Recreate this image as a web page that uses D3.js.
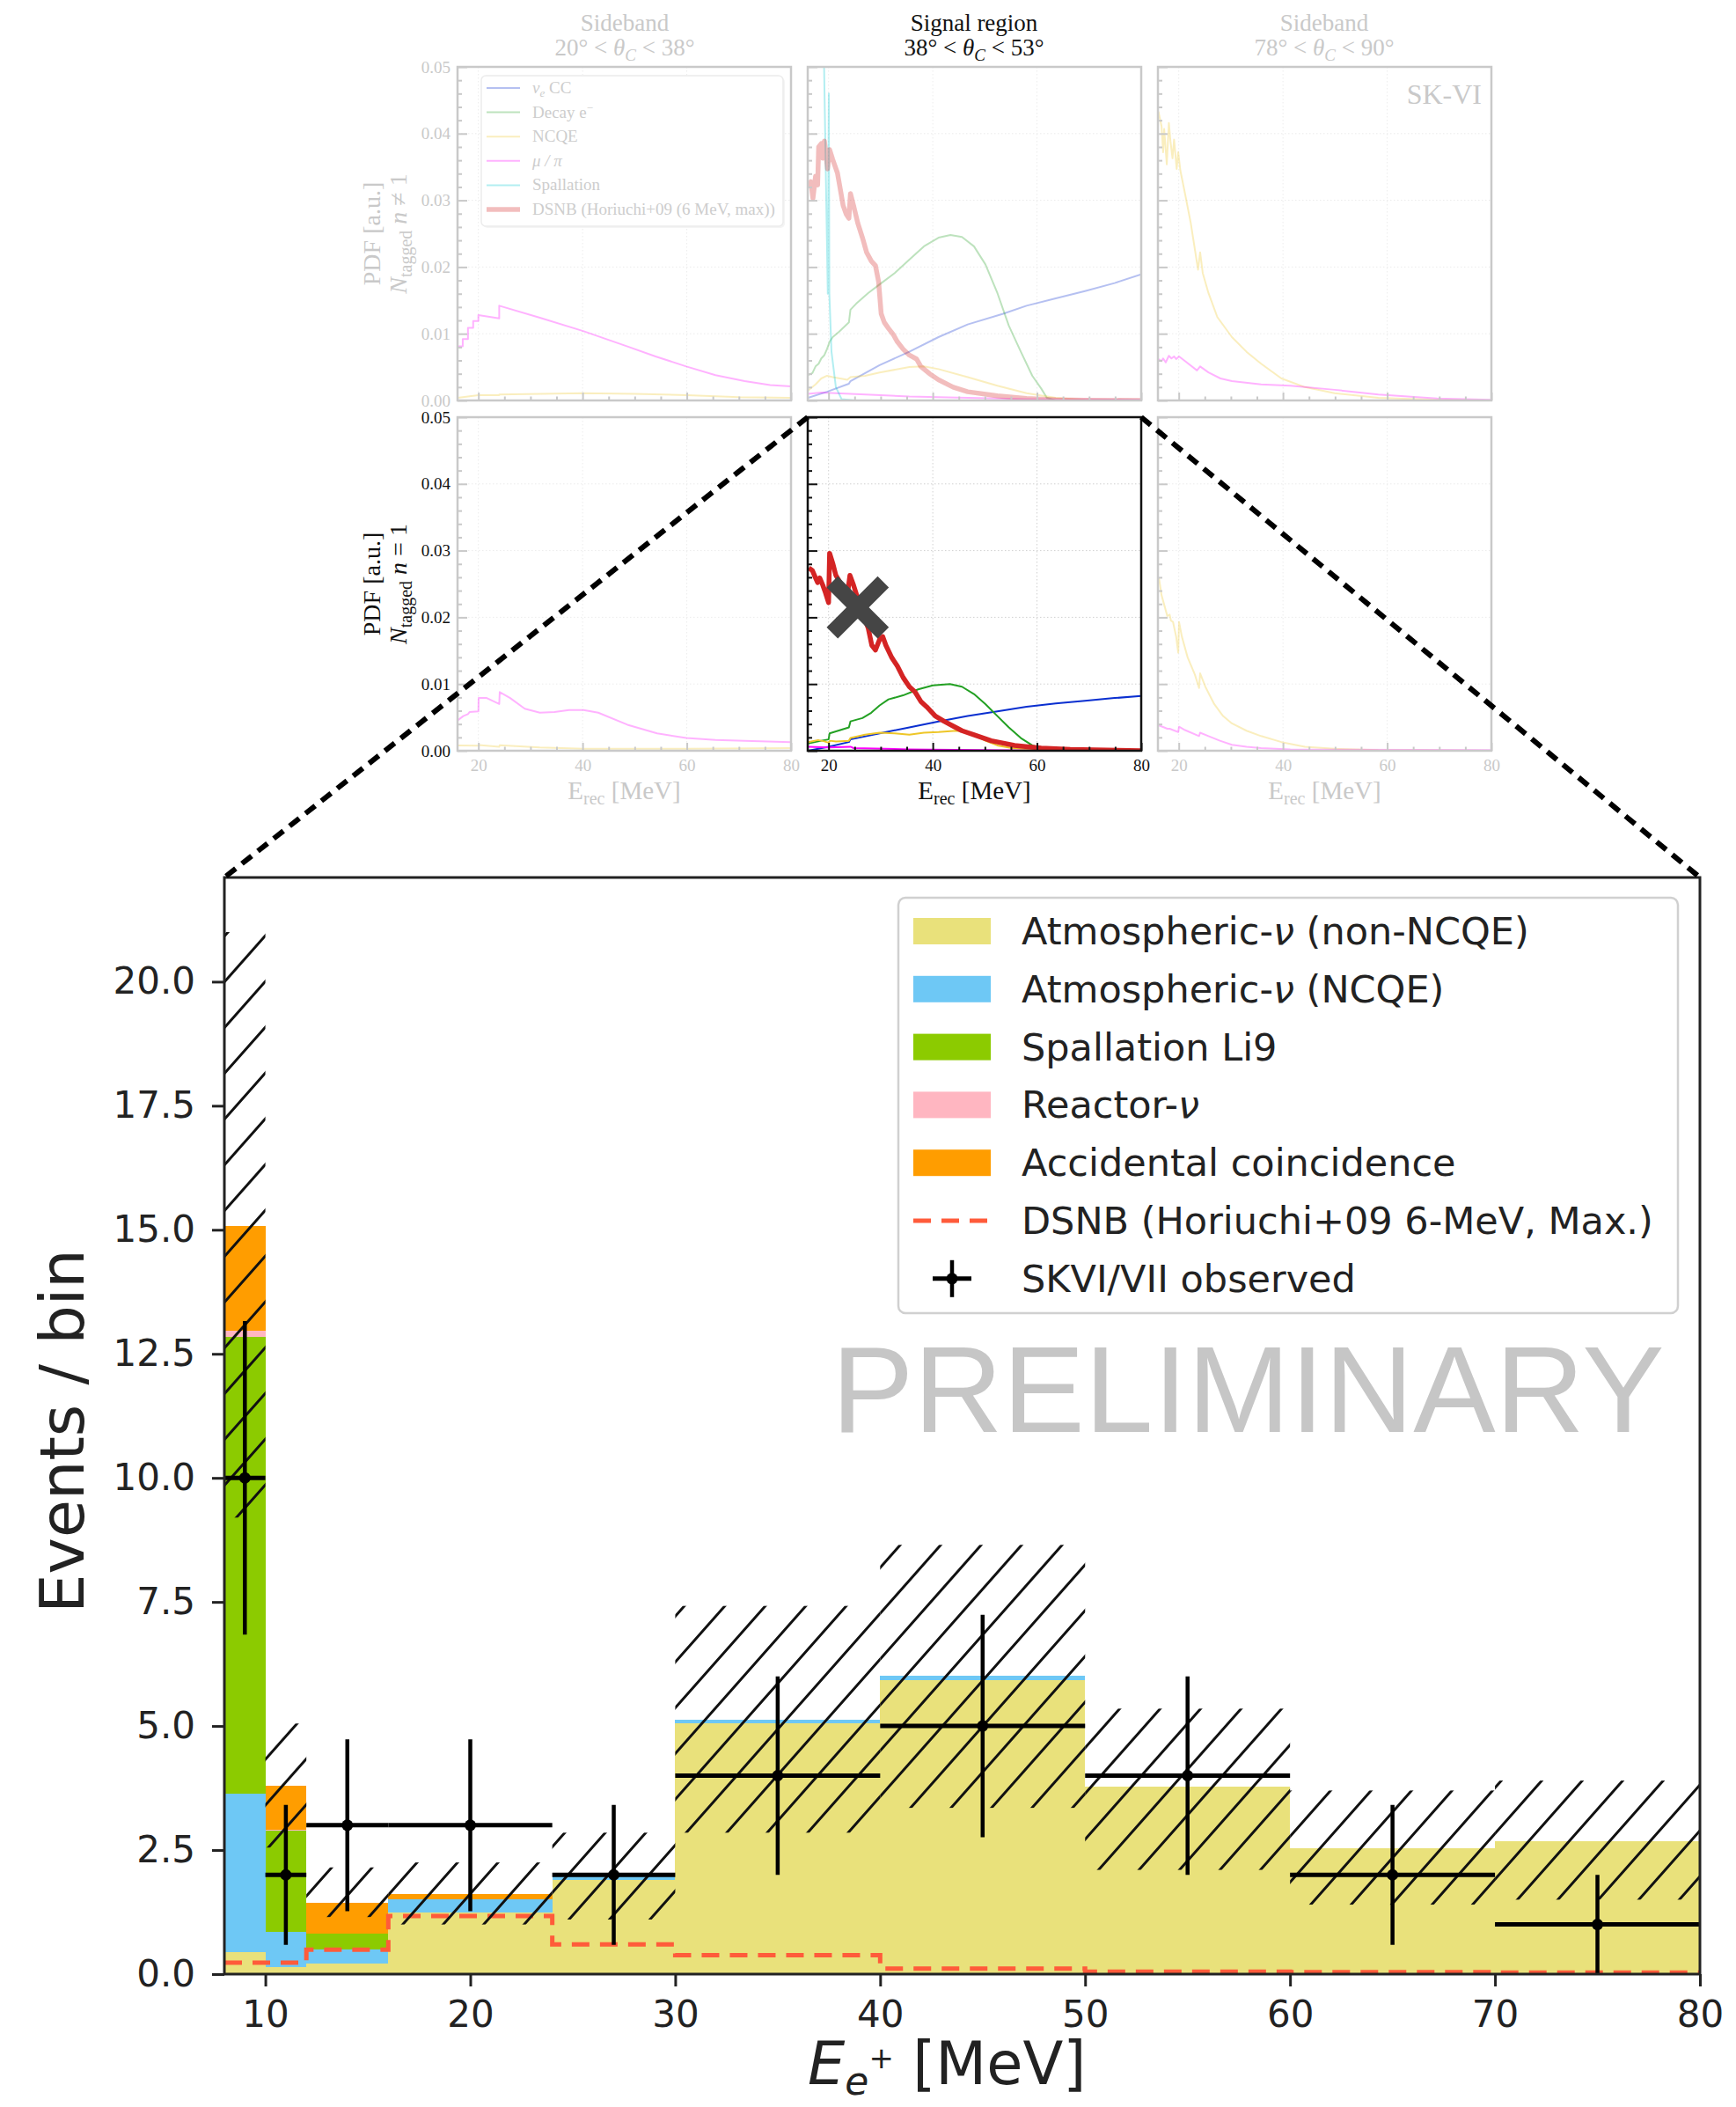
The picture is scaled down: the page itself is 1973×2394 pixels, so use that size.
<!DOCTYPE html>
<html><head><meta charset="utf-8">
<script src="https://cdn.jsdelivr.net/npm/d3@7/dist/d3.min.js"></script>
<style>html,body{margin:0;padding:0;background:#fff}svg{display:block}</style>
</head><body>
<svg id="chart" width="1973" height="2394" xmlns="http://www.w3.org/2000/svg"></svg>
<script>
// ================= MAIN CHART DATA =================
const binEdges     = [8, 10, 12, 16, 24, 30, 40, 50, 60, 70, 80];
const atmNonNCQE   = [0.45, 0.15, 0.22, 1.24, 1.89, 5.05, 5.92, 3.78, 2.54, 2.68];
const atmNCQE      = [3.18, 0.71, 0.28, 0.26, 0.09, 0.07, 0.10, 0.00, 0.00, 0.00];
const spallLi9     = [9.22, 2.03, 0.31, 0.01, 0.00, 0.00, 0.00, 0.00, 0.00, 0.00];
const reactorNu    = [0.11, 0.02, 0.01, 0.00, 0.00, 0.00, 0.00, 0.00, 0.00, 0.00];
const accidental   = [2.11, 0.88, 0.62, 0.11, 0.00, 0.00, 0.00, 0.00, 0.00, 0.00];
const dsnbExpected = [0.23, 0.23, 0.49, 1.17, 0.60, 0.38, 0.11, 0.05, 0.04, 0.03];
const bandLow      = [9.2, 2.55, 1.15, 1.00, 1.10, 2.85, 3.35, 2.10, 1.40, 1.50];
const bandHigh     = [21.0, 5.05, 2.15, 2.25, 2.85, 7.42, 8.65, 5.35, 3.70, 3.90];
const obsEnergy    = [9, 11, 14, 20, 27, 35, 45, 55, 65, 75];
const obsCounts    = [10, 2, 3, 3, 2, 4, 5, 4, 2, 1];
const obsErr       = [3.16, 1.41, 1.73, 1.73, 1.41, 2.00, 2.24, 2.00, 1.41, 1.00];
const mainYTicks   = [0, 2.5, 5, 7.5, 10, 12.5, 15, 17.5, 20];
const mainXTicks   = [10, 20, 30, 40, 50, 60, 70, 80];
const legendLabels = ["Atmospheric-ν (non-NCQE)", "Atmospheric-ν (NCQE)", "Spallation Li9", "Reactor-ν",
                      "Accidental coincidence", "DSNB (Horiuchi+09 6-MeV, Max.)", "SKVI/VII observed"];

// ================= PDF PANEL DATA ([E_rec MeV, PDF]) =================
const pdfYTicks = [0, 0.01, 0.02, 0.03, 0.04, 0.05];
const pdfXTicks = [20, 40, 60, 80];
const pdfLegendLabels = ["νe CC", "Decay e−", "NCQE", "μ / π", "Spallation", "DSNB (Horiuchi+09 (6 MeV, max))"];

const tlMuPi = [[16.0,0.0081],[17.0,0.0081],[17.0,0.0092],[18.0,0.0092],[18.0,0.0109],[19.0,0.0109],[19.0,0.0119],[20.0,0.0119],[20.0,0.0128],[24.0,0.0123],[24.0,0.0142],[31.8,0.0124],[40.1,0.0104],[48.6,0.0081],[54.0,0.0066],[59.9,0.0051],[65.5,0.0038],[71.1,0.0029],[76.0,0.0023],[80.0,0.0021]];
const tlNcqe = [[16,0.0004],[18,0.0006],[20,0.0008],[24,0.0008],[24,0.0009],[32,0.0010],[40,0.0011],[50,0.0010],[60,0.0008],[70,0.0005],[80,0.0004]];

const tmCC    = [[16.06,0.0004],[19.7,0.0013],[23.9,0.0025],[24.2,0.0029],[29.8,0.0053],[35.5,0.0073],[41.1,0.0095],[46.7,0.0114],[53.5,0.0130],[58.0,0.0142],[63.6,0.0153],[69.2,0.0164],[74.9,0.0176],[80.0,0.0189]];
const tmDecay = [[16.06,0.0038],[16.9,0.0041],[17.5,0.0051],[18.1,0.0055],[18.6,0.0063],[19.2,0.0068],[19.7,0.0077],[20.2,0.0088],[20.8,0.0095],[22.0,0.0103],[23.9,0.0117],[24.2,0.0136],[25.3,0.0145],[27.6,0.0161],[29.8,0.0174],[32.7,0.0191],[35.5,0.0211],[38.3,0.0231],[41.1,0.0244],[43.4,0.0248],[45.6,0.0245],[47.9,0.0231],[50.1,0.0204],[52.4,0.0161],[54.6,0.0112],[56.9,0.0073],[59.1,0.0037],[60.8,0.0018],[61.9,0.0004],[63.6,0.0000],[80.0,0.0000]];
const tmNcqe  = [[16.06,0.0015],[17.5,0.0024],[18.6,0.0033],[19.7,0.0037],[20.8,0.0035],[23.6,0.0031],[24.2,0.0035],[27.0,0.0037],[29.8,0.0042],[35.5,0.0050],[38.3,0.0051],[41.1,0.0047],[46.7,0.0035],[52.4,0.0022],[58.0,0.0011],[63.6,0.0004],[69.2,0.0001],[80.0,0.0000]];
const tmMuPi  = [[16.06,0.0010],[18.6,0.0012],[24.2,0.0010],[35.5,0.0006],[58.0,0.0002],[80.0,0.0001]];
const tmSpall = [[16.06,0.090],[19.1,0.052],[19.85,0.016],[20.05,0.046],[20.15,0.016],[20.56,0.0073],[21.4,0.0020],[22.5,0.0002],[25.0,0.0000],[80.0,0.0000]];
const tmDsnb  = [[16.06,0.0319],[16.6,0.0328],[17.0,0.0303],[17.5,0.0336],[17.9,0.0323],[18.1,0.0380],[18.6,0.0385],[18.9,0.0363],[19.2,0.0389],[19.4,0.0376],[19.8,0.0347],[20.2,0.0376],[20.8,0.0361],[21.7,0.0341],[22.2,0.0319],[22.8,0.0292],[23.4,0.0279],[23.9,0.0273],[24.2,0.0310],[24.8,0.0292],[25.6,0.0266],[26.5,0.0244],[27.3,0.0222],[28.2,0.0209],[29.0,0.0202],[29.6,0.0178],[30.1,0.0130],[30.7,0.0117],[31.5,0.0108],[32.4,0.0099],[33.2,0.0088],[34.3,0.0077],[35.5,0.0068],[36.9,0.0062],[37.7,0.0051],[39.4,0.0040],[41.1,0.0031],[43.9,0.0020],[46.7,0.0013],[52.4,0.0007],[58.0,0.0003],[63.6,0.0001],[69.2,0.00004],[80.0,0.0000]];

const trNcqe = [[16.1,0.0433],[16.7,0.0411],[17.0,0.0372],[17.2,0.0407],[17.7,0.0354],[18.1,0.0416],[18.4,0.0389],[18.8,0.0363],[19.1,0.0391],[19.6,0.0347],[19.9,0.0372],[20.3,0.0345],[21.2,0.0310],[22.3,0.0266],[23.1,0.0226],[23.7,0.0196],[24.1,0.0222],[24.6,0.0191],[25.7,0.0161],[27.4,0.0125],[30.2,0.0095],[33.0,0.0073],[35.8,0.0055],[39.7,0.0033],[44.2,0.0020],[49.9,0.0011],[58.3,0.0004],[69.6,0.0001],[80.0,0.0000]];
const trMuPi = [[16.1,0.0062],[16.7,0.0059],[17.0,0.0063],[17.5,0.0057],[18.1,0.0067],[18.6,0.0063],[19.1,0.0066],[19.5,0.0062],[20.05,0.0066],[21.2,0.0059],[23.5,0.0045],[24.1,0.0051],[25.7,0.0042],[28.0,0.0033],[30.2,0.0029],[35.8,0.0024],[41.4,0.0022],[49.9,0.0016],[58.3,0.0009],[69.6,0.0003],[80.0,0.0001]];

const blMuPi = [[16.1,0.0046],[17.1,0.0052],[18.0,0.0055],[18.3,0.0058],[20.0,0.0059],[20.05,0.0079],[21.6,0.0079],[24.0,0.0070],[24.1,0.0088],[26.1,0.0079],[28.9,0.0063],[31.8,0.0057],[34.6,0.0058],[37.4,0.0061],[40.2,0.0061],[43.0,0.0057],[48.6,0.0039],[54.3,0.0026],[59.9,0.0019],[65.5,0.0016],[71.1,0.0015],[80.0,0.0013]];
const blNcqe = [[16.1,0.0008],[20.0,0.00075],[20.05,0.00085],[24.0,0.0006],[24.1,0.00084],[31.8,0.0005],[40.2,0.0003],[60.0,0.0003],[80.0,0.0004]];

const bmCC    = [[16.06,0.0000],[20.0,0.0006],[23.9,0.0013],[24.2,0.0017],[29.8,0.0026],[35.5,0.0035],[41.1,0.0044],[46.7,0.0052],[52.4,0.0059],[58.0,0.0066],[63.6,0.0071],[69.2,0.0075],[74.9,0.0079],[80.0,0.0082]];
const bmDecay = [[16.06,0.0011],[18.6,0.0015],[20.0,0.0017],[20.2,0.0026],[23.9,0.0035],[24.2,0.0044],[26.5,0.0049],[28.2,0.0057],[29.8,0.0068],[31.5,0.0077],[34.3,0.0083],[37.2,0.0092],[40.0,0.0098],[43.3,0.0100],[45.6,0.0096],[47.9,0.0085],[50.1,0.0070],[52.4,0.0052],[54.6,0.0035],[56.9,0.0019],[59.1,0.0008],[61.4,0.0003],[63.6,0.0001],[80.0,0.0000]];
const bmNcqe  = [[16.06,0.0013],[18.0,0.0016],[19.2,0.0014],[20.0,0.0012],[20.3,0.0015],[21.4,0.0014],[23.9,0.0015],[24.2,0.0019],[27.0,0.0024],[29.8,0.0027],[32.7,0.0026],[35.5,0.0024],[38.3,0.0027],[41.1,0.0028],[44.5,0.0030],[46.2,0.0029],[47.9,0.0024],[50.1,0.0015],[52.4,0.0008],[55.2,0.0004],[60.8,0.0001],[80.0,0.0000]];
const bmMuPi  = [[16.06,0.0006],[20.0,0.0005],[24.2,0.0006],[24.8,0.0004],[35.5,0.0002],[58.0,0.00004],[80.0,0.0000]];
const bmDsnb  = [[16.2,0.0274],[16.9,0.0270],[17.5,0.0259],[17.9,0.0252],[18.3,0.0259],[18.9,0.0248],[19.4,0.0237],[20.0,0.0222],[20.2,0.0296],[20.8,0.0281],[21.4,0.0263],[22.0,0.0255],[22.8,0.0241],[23.7,0.0239],[24.1,0.0263],[24.8,0.0248],[25.6,0.0228],[26.7,0.0202],[27.6,0.0184],[28.3,0.0158],[29.0,0.0151],[29.8,0.0167],[30.4,0.0171],[31.0,0.0158],[32.1,0.0140],[33.2,0.0127],[34.3,0.0110],[35.5,0.0096],[36.6,0.0088],[37.7,0.0074],[38.8,0.0066],[40.5,0.0052],[42.2,0.0044],[43.9,0.0037],[45.6,0.0030],[47.9,0.0024],[51.2,0.0015],[55.7,0.0008],[60.8,0.0004],[66.4,0.0002],[80.0,0.0000]];

const brNcqe = [[16.2,0.0259],[16.7,0.0233],[17.8,0.0202],[18.25,0.0204],[18.5,0.0195],[18.9,0.0193],[19.5,0.0171],[19.9,0.0147],[20.05,0.0193],[20.6,0.0171],[21.7,0.0140],[23.1,0.0114],[23.9,0.0094],[24.1,0.0116],[25.1,0.0096],[26.8,0.0070],[28.5,0.0052],[30.2,0.0041],[33.0,0.0030],[35.8,0.0022],[39.7,0.0013],[44.2,0.0006],[49.9,0.0003],[58.3,0.0001],[80.0,0.0000]];
const brMuPi = [[16.2,0.0038],[17.2,0.0035],[17.8,0.0033],[18.25,0.0033],[18.9,0.0031],[19.9,0.0028],[20.05,0.0036],[21.2,0.0031],[23.9,0.0022],[24.1,0.0027],[25.7,0.0022],[27.9,0.0015],[30.2,0.0009],[33.0,0.0006],[35.8,0.0004],[41.4,0.0002],[80.0,0.0001]];

const crossMark = [25.6, 0.0215];

// ================= DRAWING =================
const svg = d3.select('#chart');
const defs = svg.append('defs');
const FAINT = '#c9c9c9';
const SERIF = "'Liberation Serif','DejaVu Serif',serif";
const SANS = "'DejaVu Sans','Liberation Sans',sans-serif";
const C = {cc:'#0a2fd0', decay:'#23a023', ncqe:'#eec628', mupi:'#ff00ff', spall:'#00c8d2', dsnb:'#d42424'};

const PW = 379, PH = 379;
function pdfScales(x0, y0) {
  return {
    xs: d3.scaleLinear().domain([16, 80]).range([x0, x0 + PW]),
    ys: d3.scaleLinear().domain([0, 0.05]).range([y0 + PH, y0])
  };
}

function drawPanel(p) {
  const {xs, ys} = pdfScales(p.x, p.y);
  const g = svg.append('g');
  const clipId = 'clip' + p.id;
  defs.append('clipPath').attr('id', clipId).append('rect')
    .attr('x', p.x).attr('y', p.y).attr('width', PW).attr('height', PH);
  const grid = g.append('g').attr('stroke', p.grid).attr('stroke-width', 1).attr('stroke-dasharray', '1.5,2.5');
  grid.selectAll('line.gx').data(pdfXTicks.filter(t => t < 80)).join('line')
    .attr('x1', d => xs(d)).attr('x2', d => xs(d)).attr('y1', p.y).attr('y2', p.y + PH);
  grid.selectAll('line.gy').data(pdfYTicks.filter(t => t > 0 && t < 0.05)).join('line')
    .attr('y1', d => ys(d)).attr('y2', d => ys(d)).attr('x1', p.x).attr('x2', p.x + PW);
  const line = d3.line().x(d => xs(d[0])).y(d => ys(d[1]));
  const cg = g.append('g').attr('clip-path', `url(#${clipId})`);
  p.curves.forEach(c => {
    cg.append('path').attr('d', line(c.data)).attr('fill', 'none')
      .attr('stroke', c.color).attr('stroke-width', c.w)
      .attr('stroke-opacity', p.faded ? 0.3 : 1)
      .attr('stroke-linejoin', 'round');
  });
  const yMinor = d3.range(0, 0.0501, 0.002).filter(v => Math.abs(v * 100 - Math.round(v * 100)) > 1e-6);
  const xMinor = d3.range(20, 80, 5).filter(v => v % 20 !== 0);
  const ay = g.append('g').attr('transform', `translate(${p.x},0)`)
    .call(d3.axisLeft(ys).tickValues(pdfYTicks).tickSize(-11).tickPadding(8)
      .tickFormat(p.yText ? d3.format('.2f') : () => ''));
  const ayMinor = g.append('g').attr('transform', `translate(${p.x},0)`)
    .call(d3.axisLeft(ys).tickValues(yMinor).tickSize(-5).tickFormat(() => ''));
  const ax = g.append('g').attr('transform', `translate(0,${p.y + PH})`)
    .call(d3.axisBottom(xs).tickValues(pdfXTicks).tickSize(-9).tickPadding(10)
      .tickFormat(p.xText ? d3.format('d') : () => ''));
  const axMinor = g.append('g').attr('transform', `translate(0,${p.y + PH})`)
    .call(d3.axisBottom(xs).tickValues(xMinor).tickSize(-4.5).tickFormat(() => ''));
  [ay, ayMinor, ax, axMinor].forEach(a => {
    a.select('.domain').remove();
    a.selectAll('line').attr('stroke', p.frame).attr('stroke-width', 2);
    a.selectAll('text').attr('font-family', SERIF).attr('font-size', 19);
  });
  ay.selectAll('text').attr('fill', p.yText);
  ax.selectAll('text').attr('fill', p.xText);
  g.append('rect').attr('x', p.x).attr('y', p.y).attr('width', PW).attr('height', PH)
    .attr('fill', 'none').attr('stroke', p.frame).attr('stroke-width', 2.5);
  if (p.xText) {
    const t = g.append('text').attr('x', p.x + PW / 2).attr('y', p.y + PH + 55)
      .attr('text-anchor', 'middle').attr('font-family', SERIF).attr('font-size', 29).attr('fill', p.xText);
    t.append('tspan').text('E');
    t.append('tspan').attr('font-size', 20).attr('dy', 6).text('rec');
    t.append('tspan').attr('dy', -6).text(' [MeV]');
  }
  if (p.yLabel) {
    const cy = p.y + PH / 2;
    g.append('text').attr('transform', `translate(${p.x - 88},${cy}) rotate(-90)`)
      .attr('text-anchor', 'middle').attr('font-family', SERIF).attr('font-size', 28)
      .attr('fill', p.yLabelColor).text('PDF [a.u.]');
    const t = g.append('text').attr('transform', `translate(${p.x - 58},${cy}) rotate(-90)`)
      .attr('text-anchor', 'middle').attr('font-family', SERIF).attr('font-size', 28).attr('fill', p.yLabelColor);
    t.append('tspan').attr('font-style', 'italic').text('N');
    t.append('tspan').attr('font-size', 20).attr('dy', 6).text('tagged');
    t.append('tspan').attr('dy', -6).text(' ');
    t.append('tspan').attr('font-style', 'italic').text('n');
    t.append('tspan').text(p.yLabel);
  }
  return {xs, ys, g};
}

function title(cx, l1, l2a, l2b, color) {
  const g = svg.append('g').attr('font-family', SERIF).attr('font-size', 27).attr('fill', color).attr('text-anchor', 'middle');
  g.append('text').attr('x', cx).attr('y', 35).text(l1);
  const t = g.append('text').attr('x', cx).attr('y', 63);
  t.append('tspan').text(l2a + ' < ');
  t.append('tspan').attr('font-style', 'italic').text('θ');
  t.append('tspan').attr('font-style', 'italic').attr('font-size', 19).attr('dy', 6).text('C');
  t.append('tspan').attr('dy', -6).text(' < ' + l2b);
}

const cw = 2, dw = 5.5;
const TL = drawPanel({id:'TL', x:520, y:76, frame:FAINT, grid:'#ececec', faded:true, yText:FAINT, xText:null, yLabel:' ≠ 1', yLabelColor:FAINT,
  curves:[{data:tlNcqe,color:C.ncqe,w:cw},{data:tlMuPi,color:C.mupi,w:cw}]});
const TM = drawPanel({id:'TM', x:918, y:76, frame:FAINT, grid:'#ececec', faded:true, yText:null, xText:null,
  curves:[{data:tmCC,color:C.cc,w:cw},{data:tmDecay,color:C.decay,w:cw},{data:tmNcqe,color:C.ncqe,w:cw},{data:tmMuPi,color:C.mupi,w:cw},{data:tmSpall,color:C.spall,w:cw},{data:tmDsnb,color:C.dsnb,w:dw}]});
const TR = drawPanel({id:'TR', x:1316, y:76, frame:FAINT, grid:'#ececec', faded:true, yText:null, xText:null,
  curves:[{data:trNcqe,color:C.ncqe,w:cw},{data:trMuPi,color:C.mupi,w:cw}]});
const BL = drawPanel({id:'BL', x:520, y:474, frame:FAINT, grid:'#ececec', faded:true, yText:'#111', xText:FAINT, yLabel:' = 1', yLabelColor:'#111',
  curves:[{data:blNcqe,color:C.ncqe,w:cw},{data:blMuPi,color:C.mupi,w:cw}]});
const BM = drawPanel({id:'BM', x:918, y:474, frame:'#111', grid:'#d0d0d0', faded:false, yText:null, xText:'#111',
  curves:[{data:bmCC,color:C.cc,w:cw},{data:bmDecay,color:C.decay,w:cw},{data:bmNcqe,color:C.ncqe,w:cw},{data:bmMuPi,color:C.mupi,w:cw},{data:bmDsnb,color:C.dsnb,w:dw}]});
const BR = drawPanel({id:'BR', x:1316, y:474, frame:FAINT, grid:'#ececec', faded:true, yText:null, xText:FAINT,
  curves:[{data:brNcqe,color:C.ncqe,w:cw},{data:brMuPi,color:C.mupi,w:cw}]});

title(710, 'Sideband', '20°', '38°', FAINT);
title(1107, 'Signal region', '38°', '53°', '#111');
title(1505, 'Sideband', '78°', '90°', FAINT);

svg.append('text').attr('x', 1684).attr('y', 118).attr('text-anchor', 'end')
  .attr('font-family', SERIF).attr('font-size', 32).attr('fill', FAINT).text('SK-VI');

// legend in top-left panel
{
  const lg = svg.append('g');
  lg.append('rect').attr('x', 549).attr('y', 88).attr('width', 343).attr('height', 171).attr('rx', 5)
    .attr('fill', '#f4f4f4');
  lg.append('rect').attr('x', 547).attr('y', 86).attr('width', 343).attr('height', 171).attr('rx', 5)
    .attr('fill', '#fff').attr('stroke', '#ececec').attr('stroke-width', 1.5);
  const cols = [C.cc, C.decay, C.ncqe, C.mupi, C.spall, C.dsnb];
  pdfLegendLabels.forEach((lab, i) => {
    const y = 100 + i * 27.6;
    lg.append('line').attr('x1', 553).attr('x2', 591).attr('y1', y).attr('y2', y)
      .attr('stroke', cols[i]).attr('stroke-opacity', 0.3).attr('stroke-width', i === 5 ? dw : cw);
    const t = lg.append('text').attr('x', 605).attr('y', y + 6).attr('font-family', SERIF)
      .attr('font-size', 19).attr('fill', '#cdcdcd');
    if (i === 0) {
      t.append('tspan').attr('font-style', 'italic').text('ν');
      t.append('tspan').attr('font-style', 'italic').attr('font-size', 13).attr('dy', 4).text('e');
      t.append('tspan').attr('dy', -4).text(' CC');
    } else if (i === 1) {
      t.append('tspan').text('Decay e');
      t.append('tspan').attr('font-size', 13).attr('dy', -7).text('−');
    } else if (i === 3) {
      t.append('tspan').attr('font-style', 'italic').text(lab);
    } else t.text(lab);
  });
}

// big cross over the signal-region n=1 panel
{
  const cx = BM.xs(crossMark[0]), cy = BM.ys(crossMark[1]), h = 29;
  svg.append('path').attr('d', `M${cx - h},${cy - h}L${cx + h},${cy + h}M${cx - h},${cy + h}L${cx + h},${cy - h}`)
    .attr('stroke', '#454545').attr('stroke-width', 18).attr('fill', 'none');
}

// ================= MAIN CHART =================
const mx = d3.scaleLinear().domain([8, 80]).range([255, 1932]);
const my = d3.scaleLinear().domain([0, 22.1]).range([2243, 997]);
const main = svg.append('g');

const rows = atmNonNCQE.map((v, i) => ({x0: binEdges[i], x1: binEdges[i + 1],
  nonncqe: v, ncqe: atmNCQE[i], li9: spallLi9[i], reactor: reactorNu[i], acc: accidental[i]}));
const keys = ['nonncqe', 'ncqe', 'li9', 'reactor', 'acc'];
const MC = {nonncqe:'#e9e17b', ncqe:'#6ec8f5', li9:'#8ccb00', reactor:'#ffb6c1', acc:'#ff9d00', dsnb:'#ff5b3a'};
const stacked = d3.stack().keys(keys)(rows);
main.append('g').selectAll('g').data(stacked).join('g').attr('fill', d => MC[d.key])
  .selectAll('rect').data(d => d).join('rect')
  .attr('x', d => mx(d.data.x0)).attr('width', d => mx(d.data.x1) - mx(d.data.x0))
  .attr('y', d => my(d[1])).attr('height', d => Math.max(0, my(d[0]) - my(d[1])))
  .attr('shape-rendering', 'crispEdges');

const dsnbPts = binEdges.map((e, i) => [e, dsnbExpected[Math.min(i, dsnbExpected.length - 1)]]);
main.append('path').attr('d', d3.line().x(d => mx(d[0])).y(d => my(d[1])).curve(d3.curveStepAfter)(dsnbPts))
  .attr('fill', 'none').attr('stroke', MC.dsnb).attr('stroke-width', 5).attr('stroke-dasharray', '20,12');

{
  const w = 46, h = 52;
  const pat = defs.append('pattern').attr('id', 'hatch').attr('patternUnits', 'userSpaceOnUse')
    .attr('width', w).attr('height', h);
  pat.append('path').attr('d', `M${-w/4},${h/4}L${w/4},${-h/4}M0,${h}L${w},0M${3*w/4},${5*h/4}L${5*w/4},${3*h/4}`)
    .attr('stroke', '#111').attr('stroke-width', 3);
  main.append('g').selectAll('rect').data(bandLow).join('rect')
    .attr('x', (d, i) => mx(binEdges[i])).attr('width', (d, i) => mx(binEdges[i + 1]) - mx(binEdges[i]))
    .attr('y', (d, i) => my(bandHigh[i])).attr('height', (d, i) => my(d) - my(bandHigh[i]))
    .attr('fill', 'url(#hatch)');
}

{
  const g = main.append('g').attr('stroke', '#000');
  g.selectAll('line.h').data(obsCounts).join('line')
    .attr('x1', (d, i) => mx(binEdges[i])).attr('x2', (d, i) => mx(binEdges[i + 1]))
    .attr('y1', d => my(d)).attr('y2', d => my(d)).attr('stroke-width', 5);
  g.selectAll('line.v').data(obsCounts).join('line')
    .attr('x1', (d, i) => mx(obsEnergy[i])).attr('x2', (d, i) => mx(obsEnergy[i]))
    .attr('y1', (d, i) => my(d + obsErr[i])).attr('y2', (d, i) => my(d - obsErr[i])).attr('stroke-width', 4.5);
  main.append('g').selectAll('circle').data(obsCounts).join('circle')
    .attr('cx', (d, i) => mx(obsEnergy[i])).attr('cy', d => my(d)).attr('r', 6.5).attr('fill', '#000');
}

{
  const ay = main.append('g').attr('transform', `translate(${mx(8)},0)`)
    .call(d3.axisLeft(my).tickValues(mainYTicks).tickSize(14).tickPadding(19).tickFormat(d3.format('.1f')));
  const ax = main.append('g').attr('transform', `translate(0,${my(0)})`)
    .call(d3.axisBottom(mx).tickValues(mainXTicks).tickSize(14).tickPadding(16).tickFormat(d3.format('d')));
  [ay, ax].forEach(a => {
    a.select('.domain').remove();
    a.selectAll('line').attr('stroke', '#222').attr('stroke-width', 3);
    a.selectAll('text').attr('font-family', SANS).attr('font-size', 42).attr('fill', '#222');
  });
  const fr = main.append('g').attr('stroke', '#222').attr('stroke-width', 3).attr('fill', 'none');
  fr.append('rect').attr('x', mx(8)).attr('y', my(22.1)).attr('width', mx(80) - mx(8)).attr('height', my(0) - my(22.1));
}

main.append('text').attr('transform', `translate(95,${(my(0) + my(22.1)) / 2 + 6}) rotate(-90)`)
  .attr('text-anchor', 'middle').attr('font-family', SANS).attr('font-size', 70).attr('fill', '#222').text('Events / bin');
{
  const t = main.append('text').attr('x', 918).attr('y', 2368).attr('font-family', SANS).attr('font-size', 67).attr('fill', '#222');
  t.append('tspan').attr('font-style', 'italic').text('E');
  t.append('tspan').attr('font-style', 'italic').attr('font-size', 44).attr('dy', 12).text('e');
  t.append('tspan').attr('font-size', 34).attr('dy', -30).text('+');
  t.append('tspan').attr('dy', 18).text(' [MeV]');
}

main.append('text').attr('x', 945).attr('y', 1627).attr('font-family', "'Liberation Sans',Arial,sans-serif")
  .attr('font-size', 140).attr('fill', '#c6c6c6').text('PRELIMINARY');

{
  const lg = main.append('g');
  lg.append('rect').attr('x', 1021).attr('y', 1020).attr('width', 886).attr('height', 472).attr('rx', 8)
    .attr('fill', '#fff').attr('fill-opacity', 0.9).attr('stroke', '#d0d0d0').attr('stroke-width', 2.5);
  const fills = [MC.nonncqe, MC.ncqe, MC.li9, MC.reactor, MC.acc];
  legendLabels.forEach((lab, i) => {
    const y = 1058 + i * 65.8;
    if (i < 5) {
      lg.append('rect').attr('x', 1038).attr('y', y - 15).attr('width', 88).attr('height', 30).attr('fill', fills[i]);
    } else if (i === 5) {
      lg.append('line').attr('x1', 1038).attr('x2', 1126).attr('y1', y).attr('y2', y)
        .attr('stroke', MC.dsnb).attr('stroke-width', 5).attr('stroke-dasharray', '20,12');
    } else {
      lg.append('line').attr('x1', 1060).attr('x2', 1104).attr('y1', y).attr('y2', y).attr('stroke', '#000').attr('stroke-width', 5);
      lg.append('line').attr('x1', 1082).attr('x2', 1082).attr('y1', y - 21).attr('y2', y + 21).attr('stroke', '#000').attr('stroke-width', 4.5);
      lg.append('circle').attr('cx', 1082).attr('cy', y).attr('r', 6.5).attr('fill', '#000');
    }
    const t = lg.append('text').attr('x', 1161).attr('y', y + 15).attr('font-family', SANS)
      .attr('font-size', 43).attr('fill', '#222');
    if (lab.includes('ν')) {
      const parts = lab.split('ν');
      t.append('tspan').text(parts[0]);
      t.append('tspan').attr('font-style', 'italic').text('ν');
      t.append('tspan').text(parts[1]);
    } else t.text(lab);
  });
}

{
  const pts = [[[BM.xs(16), BM.ys(0.05)], [mx(8), my(22.1)]], [[BM.xs(80), BM.ys(0.05)], [mx(80), my(22.1)]]];
  svg.append('g').selectAll('path').data(pts).join('path')
    .attr('d', d => d3.line()(d)).attr('stroke', '#000').attr('stroke-width', 6)
    .attr('stroke-dasharray', '14,9').attr('fill', 'none');
}
</script>
</body></html>
